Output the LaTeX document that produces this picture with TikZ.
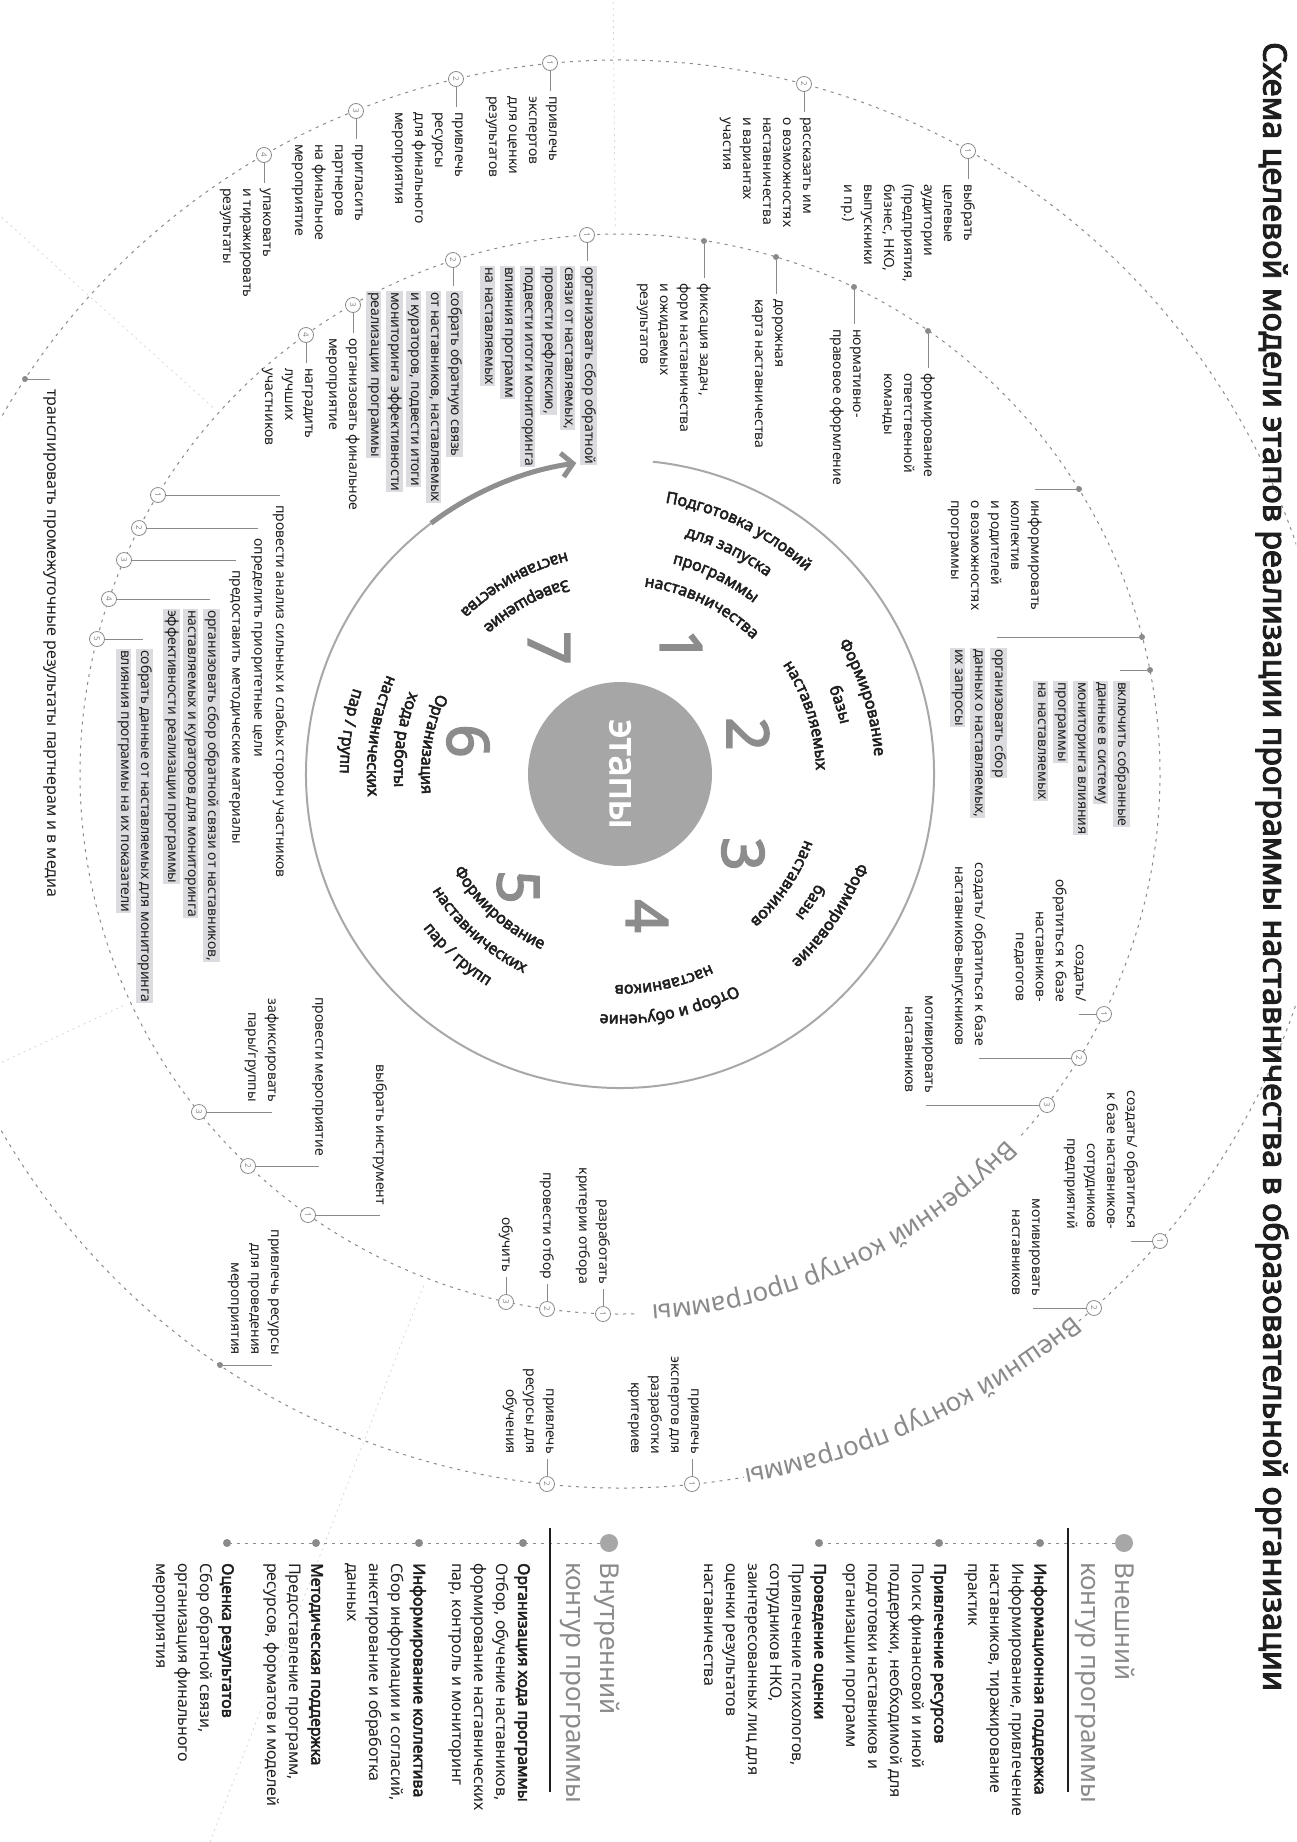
\documentclass[tikz,border=0pt]{standalone}
\usepackage{fontspec}
\setmainfont{Noto Sans}[AutoFakeBold=3]
\usetikzlibrary{calc,decorations.text,arrows.meta}
\definecolor{txt}{HTML}{1E1E1E}
\definecolor{mk}{HTML}{8A8A8A}
\definecolor{ring}{HTML}{A8A8A8}
\definecolor{arr}{HTML}{8F8F8F}
\definecolor{disc}{HTML}{A6A6A6}
\definecolor{digit}{HTML}{8C8C8C}
\definecolor{hlgray}{HTML}{DCDCE0}
\definecolor{faint}{HTML}{D4D4D4}
\newcommand\tfont{\fontsize{14}{20}\selectfont}
\newcommand\lfont{\fontsize{16}{22}\selectfont}
\newcommand\sfont{\bfseries\fontsize{16}{16}\selectfont}
\newcommand\cfont{\fontsize{26}{26}\selectfont}
\newcommand\hl[1]{{\setlength{\fboxsep}{0.8pt}\colorbox{hlgray}{\rule[-4.4pt]{0pt}{13.8pt}#1}}}
\newcommand\cwtext[3]{\path[decorate,decoration={text along path,text align=center,text color=txt,text={|\sfont|#3}}] ($(C)+({#1+45}:#2)$) arc[start angle={#1+45},end angle={#1-45},radius=#2];}
\newcommand\ccwtext[3]{\path[decorate,decoration={text along path,text align=center,text color=txt,text={|\sfont|#3}}] ($(C)+({#1-45}:#2)$) arc[start angle={#1-45},end angle={#1+45},radius=#2];}
\begin{document}
\begin{tikzpicture}[x=1pt,y=1pt,
  num/.style={circle,draw=mk,fill=white,line width=0.8pt,inner sep=0pt,minimum size=15pt,font=\fontsize{8}{8}\selectfont,text=mk,rotate=-90},
  dotm/.style={circle,fill=mk,inner sep=0pt,minimum size=6pt},
  conn/.style={draw=mk,line width=0.7pt},
  tb/.style={rotate=-90,anchor=north west,align=left,inner sep=0pt,font=\tfont,text=txt,execute at begin node={\rule{0pt}{10.5pt}}},
  ta/.style={tb,anchor=north east,align=right},
  dashc/.style={draw=mk,line width=1pt,dash pattern=on 3pt off 5pt},
  leg/.style={rotate=-90,anchor=north west,align=left,inner sep=0pt,font=\lfont,text=txt},
  hdr/.style={rotate=-90,anchor=north west,align=left,inner sep=0pt,font=\fontsize{26}{34}\selectfont,text=mk},
  dig/.style={rotate=-90,inner sep=0pt,font=\bfseries\fontsize{58}{58}\selectfont,text=digit},
  bigdot/.style={circle,fill=mk!75,inner sep=0pt,minimum size=18pt},
  ldot/.style={circle,fill=mk,inner sep=0pt,minimum size=8pt},
  faintl/.style={draw=faint,line width=0.7pt,dash pattern=on 2pt off 4pt},
]
\useasboundingbox (0,0) rectangle (1296,-1842);
\fill[white] (0,0) rectangle (1296,-1842);
\coordinate (C) at (620,-774);

% faint sector dividers and dashed contour circles
\begin{scope}
\clip (0,0) rectangle (1296,-1842);
\foreach \a in {90.5,138,205,-111} \draw[faintl] ($(C)+(\a:548)$) -- ($(C)+(\a:1150)$);
\draw[dashc] ($(C)+(-42:540)$) arc[start angle=-42,end angle=272,radius=540];
\draw[dashc] ($(C)+(-50:714)$) arc[start angle=-50,end angle=280,radius=714];
\end{scope}

% contour labels
\path[decorate,decoration={text along path,text align=center,text color=mk,text={|\cfont|Внутренний контур программы}}] ($(C)+(-20:532)$) arc[start angle=-20,end angle=-110,radius=532];
\path[decorate,decoration={text along path,text align=center,text color=mk,text={|\cfont|Внешний контур программы}}] ($(C)+(-35:706)$) arc[start angle=-35,end angle=-95,radius=706];

% central ring and arrow
\draw[draw=ring,line width=2pt] ($(C)+(84:314)$) arc[start angle=84,end angle=-233,radius=314];
\draw[draw=arr,line width=5pt,-{Straight Barb[length=11pt,width=24pt]}] ($(C)+(127:314)$) arc[start angle=127,end angle=98,radius=314];
\node[circle,fill=disc,minimum size=184pt,inner sep=0pt] (disc) at (C) {};
\node[rotate=-90,inner sep=0pt,font=\bfseries\fontsize{38}{38}\selectfont,text=white] (etapy) at (C) {этапы};

% stage digits
\node[dig] (n1) at (681,-646) {1};
\node[dig] (n2) at (748,-734) {2};
\node[dig] (n3) at (743,-854) {3};
\node[dig] (n4) at (647,-916) {4};
\node[dig] (n5) at (518,-887) {5};
\node[dig] (n6) at (468,-741) {6};
\node[dig] (n7) at (549,-648) {7};

% stage names
\cwtext{64}{275}{Подготовка условий}
\cwtext{64}{246}{для запуска}
\cwtext{64}{217}{программы}
\cwtext{64}{189}{наставничества}
\cwtext{17.5}{255}{Формирование}
\cwtext{17.5}{226}{базы}
\cwtext{17.5}{196}{наставляемых}
\cwtext{-34}{254}{Формирование}
\cwtext{-34}{225}{базы}
\cwtext{-34}{196}{наставников}
\cwtext{-78}{241}{Отбор и обучение}
\cwtext{-78}{211}{наставников}
\ccwtext{-132}{192}{Формирование}
\ccwtext{-132}{221}{наставнических}
\ccwtext{-132}{250}{пар / групп}
\ccwtext{171}{199}{Организация}
\ccwtext{171}{226}{хода работы}
\ccwtext{171}{253}{наставнических}
\ccwtext{171}{280}{пар / групп}
\ccwtext{119}{201}{Завершение}
\ccwtext{119}{228}{наставничества}

% ---------- Stage 1 ----------
\node[num] (m11) at (968,-151) {1};
\node[tb] (t11) at (975,-184) {выбрать\\целевые\\аудитории\\(предприятия,\\бизнес, НКО,\\выпускники\\и пр.)};
\draw[conn] (m11) -- ($(m11 |- t11.north west)+(0,5)$);
\node[num] (m12) at (804,-84) {2};
\node[tb] (t12) at (811,-117) {рассказать им\\о возможностях\\наставничества\\и вариантах\\участия};
\draw[conn] (m12) -- ($(m12 |- t12.north west)+(0,5)$);
\node[dotm] (d11) at (704,-241) {};
\node[tb] (u11) at (711,-283) {фиксация задач,\\форм наставничества\\и ожидаемых\\результатов};
\draw[conn] (d11) -- ($(d11 |- u11.north west)+(0,5)$);
\node[dotm] (d12) at (776,-257) {};
\node[tb] (u12) at (783,-299) {дорожная\\карта наставничества};
\draw[conn] (d12) -- ($(d12 |- u12.north west)+(0,5)$);
\node[dotm] (d13) at (854,-287) {};
\node[tb] (u13) at (861,-329) {нормативно-\\правовое оформление};
\draw[conn] (d13) -- ($(d13 |- u13.north west)+(0,5)$);
\node[dotm] (d14) at (928,-331) {};
\node[tb] (u14) at (935,-373) {формирование\\ответственной\\команды};
\draw[conn] (d14) -- ($(d14 |- u14.north west)+(0,5)$);

% ---------- Stage 2 ----------
\node[dotm] (d21) at (1079,-489) {};
\node[tb] (u21) at (1042,-500) {информировать\\коллектив\\и родителей\\о возможностях\\программы};
\draw[conn] (d21) -- ($(d21 -| u21.north west)+(-7,0)$);
\node[dotm] (d22) at (1142,-637) {};
\node[tb] (u22) at (1007,-648) {\hl{организовать сбор}\\\hl{данных о наставляемых,}\\\hl{их запросы}};
\draw[conn] (d22) -- ($(d22 -| u22.north west)+(-10,0)$);
\node[dotm] (d23) at (1150,-670) {};
\node[tb] (u23) at (1130,-681) {\hl{включить собранные}\\\hl{данные в систему}\\\hl{мониторинга влияния}\\\hl{программы}\\\hl{на наставляемых}};
\draw[conn] (d23) -- ($(d23 -| u23.north west)+(-10,0)$);

% ---------- Stage 3 ----------
\node[num] (m31) at (1104,-1014) {1};
\node[ta] (t31) at (1086,-1002) {создать/\\обратиться к базе\\наставников-\\педагогов};
\draw[conn] (m31) -- ($(m31 -| t31.north east)+(-7,0)$);
\node[num] (m32) at (1079,-1058) {2};
\node[ta] (t32) at (986,-1046) {создать/ обратиться к базе\\наставников-выпускников};
\draw[conn] (m32) -- ($(m32 -| t32.north east)+(-7,0)$);
\node[num] (m33) at (1047,-1105) {3};
\node[ta] (t33) at (933,-1093) {мотивировать\\наставников};
\draw[conn] (m33) -- ($(m33 -| t33.north east)+(-7,0)$);
\node[num] (m34) at (1160,-1241) {1};
\node[ta] (t34) at (1138,-1229) {создать/ обратиться\\к базе наставников-\\сотрудников\\предприятий};
\draw[conn] (m34) -- ($(m34 -| t34.north east)+(-7,0)$);
\node[num] (m35) at (1094,-1308) {2};
\node[ta] (t35) at (1040,-1296) {мотивировать\\наставников};
\draw[conn] (m35) -- ($(m35 -| t35.north east)+(-7,0)$);

% ---------- Stage 4 ----------
\node[num] (m41) at (603,-1314) {1};
\node[ta] (t41) at (610,-1284) {разработать\\критерии отбора};
\draw[conn] (m41) -- ($(m41 |- t41.north east)+(0,-5)$);
\node[num] (m42) at (547,-1309) {2};
\node[ta] (t42) at (554,-1279) {провести отбор};
\draw[conn] (m42) -- ($(m42 |- t42.north east)+(0,-5)$);
\node[num] (m43) at (506,-1302) {3};
\node[ta] (t43) at (513,-1272) {обучить};
\draw[conn] (m43) -- ($(m43 |- t43.north east)+(0,-5)$);
\node[num] (m44) at (692,-1484) {1};
\node[ta] (t44) at (699,-1454) {привлечь\\экспертов для\\разработки\\критериев};
\draw[conn] (m44) -- ($(m44 |- t44.north east)+(0,-5)$);
\node[num] (m45) at (547,-1484) {2};
\node[ta] (t45) at (554,-1454) {привлечь\\ресурсы для\\обучения};
\draw[conn] (m45) -- ($(m45 |- t45.north east)+(0,-5)$);

% ---------- Stage 5 ----------
\node[num] (m51) at (308,-1215) {1};
\node[ta] (t51) at (387,-1205) {выбрать инструмент};
\draw[conn] (m51) -- ($(m51 -| t51.north east)+(-7,0)$);
\node[num] (m52) at (248,-1166) {2};
\node[ta] (t52) at (326,-1156) {провести мероприятие};
\draw[conn] (m52) -- ($(m52 -| t52.north east)+(-7,0)$);
\node[num] (m53) at (199,-1112) {3};
\node[ta] (t53) at (279,-1102) {зафиксировать\\пары/группы};
\draw[conn] (m53) -- ($(m53 -| t53.north east)+(-7,0)$);
\node[dotm] (d54) at (220,-1365) {};
\node[ta] (t54) at (279,-1355) {привлечь ресурсы\\для проведения\\мероприятия};
\draw[conn] (d54) -- ($(d54 -| t54.north east)+(-7,0)$);

% ---------- Stage 6 ----------
\node[num] (m61) at (158,-495) {1};
\node[tb] (t61) at (287,-505) {провести анализ сильных и слабых сторон участников};
\draw[conn] (m61) -- ($(m61 -| t61.north west)+(-7,0)$);
\node[num] (m62) at (139,-528) {2};
\node[tb] (t62) at (265,-538) {определить приоритетные цели};
\draw[conn] (m62) -- ($(m62 -| t62.north west)+(-7,0)$);
\node[num] (m63) at (124,-560) {3};
\node[tb] (t63) at (243,-570) {предоставить методические материалы};
\draw[conn] (m63) -- ($(m63 -| t63.north west)+(-7,0)$);
\node[num] (m64) at (109,-599) {4};
\node[tb] (t64) at (220,-609) {\hl{организовать сбор обратной связи от наставников,}\\\hl{наставляемых и кураторов для мониторинга}\\\hl{эффективности реализации программы}};
\draw[conn] (m64) -- ($(m64 -| t64.north west)+(-10,0)$);
\node[num] (m65) at (97,-639) {5};
\node[tb] (t65) at (153,-649) {\hl{собрать данные от наставляемых для мониторинга}\\\hl{влияния программы на их показатели}};
\draw[conn] (m65) -- ($(m65 -| t65.north west)+(-10,0)$);
\node[dotm] (d66) at (25,-379) {};
\node[tb,font=\fontsize{16}{20}\selectfont] (t66) at (58,-389) {транслировать промежуточные результаты партнерам и в медиа};
\draw[conn] (d66) -- ($(d66 -| t66.north west)+(-8,0)$);

% ---------- Stage 7 ----------
\node[num] (m71) at (550,-63) {1};
\node[tb] (t71) at (557,-96) {привлечь\\экспертов\\для оценки\\результатов};
\draw[conn] (m71) -- ($(m71 |- t71.north west)+(0,5)$);
\node[num] (m72) at (456,-79) {2};
\node[tb] (t72) at (463,-112) {привлечь\\ресурсы\\для финального\\мероприятия};
\draw[conn] (m72) -- ($(m72 |- t72.north west)+(0,5)$);
\node[num] (m73) at (356,-111) {3};
\node[tb] (t73) at (363,-144) {пригласить\\партнеров\\на финальное\\мероприятие};
\draw[conn] (m73) -- ($(m73 |- t73.north west)+(0,5)$);
\node[num] (m74) at (264,-155) {4};
\node[tb] (t74) at (271,-188) {упаковать\\и тиражировать\\результаты};
\draw[conn] (m74) -- ($(m74 |- t74.north west)+(0,5)$);
\node[num] (m75) at (587,-235) {1};
\node[tb] (t75) at (597,-266) {\hl{организовать сбор обратной}\\\hl{связи от наставляемых,}\\\hl{провести рефлексию,}\\\hl{подвести итоги мониторинга}\\\hl{влияния программ}\\\hl{на наставляемых}};
\draw[conn] (m75) -- ($(m75 |- t75.north west)+(0,5)$);
\node[num] (m76) at (453,-260) {2};
\node[tb] (t76) at (463,-291) {\hl{собрать обратную связь}\\\hl{от наставников, наставляемых}\\\hl{и кураторов, подвести итоги}\\\hl{мониторинга эффективности}\\\hl{реализации программы}};
\draw[conn] (m76) -- ($(m76 |- t76.north west)+(0,5)$);
\node[num] (m77) at (353,-305) {3};
\node[tb] (t77) at (360,-338) {организовать финальное\\мероприятие};
\draw[conn] (m77) -- ($(m77 |- t77.north west)+(0,5)$);
\node[num] (m78) at (306,-335) {4};
\node[tb] (t78) at (313,-368) {наградить\\лучших\\участников};
\draw[conn] (m78) -- ($(m78 |- t78.north west)+(0,5)$);

% ---------- Title ----------
\node[rotate=-90,anchor=west,inner sep=0pt,font=\bfseries\fontsize{32.3}{32.3}\selectfont,text=txt] (title) at (1272,-42) {Схема целевой модели этапов реализации программы наставничества в образовательной организации};

% ---------- Legend: inner contour ----------
\node[bigdot] (lgI) at (609,-1543) {};
\node[ldot] (li1) at (523,-1543) {};
\node[ldot] (li2) at (419,-1543) {};
\node[ldot] (li3) at (316,-1543) {};
\node[ldot] (li4) at (227,-1543) {};
\draw[dashc] (lgI) -- (li1) -- (li2) -- (li3) -- (li4);
\node[hdr] (hI) at (620,-1562) {Внутренний\\контур программы};
\draw[draw=txt,line width=1.3pt] (550,-1528) -- (550,-1792);
\node[leg] (lI1) at (530,-1563) {\textbf{Организация хода программы}\\Отбор, обучение наставников,\\формирование наставнических\\пар, контроль и мониторинг};
\node[leg] (lI2) at (426,-1563) {\textbf{Информирование коллектива}\\Сбор информации и согласий,\\анкетирование и обработка\\данных};
\node[leg] (lI3) at (323,-1563) {\textbf{Методическая поддержка}\\Предоставление программ,\\ресурсов, форматов и моделей};
\node[leg] (lI4) at (234,-1563) {\textbf{Оценка результатов}\\Сбор обратной связи,\\организация финального\\мероприятия};

% ---------- Legend: outer contour ----------
\node[bigdot] (lgE) at (1124,-1543) {};
\node[ldot] (le1) at (1040,-1543) {};
\node[ldot] (le2) at (939,-1543) {};
\node[ldot] (le3) at (819,-1543) {};
\draw[dashc] (lgE) -- (le1) -- (le2) -- (le3);
\node[hdr] (hE) at (1135,-1562) {Внешний\\контур программы};
\draw[draw=txt,line width=1.3pt] (1068,-1528) -- (1068,-1792);
\node[leg] (lE1) at (1047,-1563) {\textbf{Информационная поддержка}\\Информирование, привлечение\\наставников, тиражирование\\практик};
\node[leg] (lE2) at (946,-1563) {\textbf{Привлечение ресурсов}\\Поиск финансовой и иной\\поддержки, необходимой для\\подготовки наставников и\\организации программ};
\node[leg] (lE3) at (826,-1563) {\textbf{Проведение оценки}\\Привлечение психологов,\\сотрудников НКО,\\заинтересованных лиц для\\оценки результатов\\наставничества};
\end{tikzpicture}
\end{document}
